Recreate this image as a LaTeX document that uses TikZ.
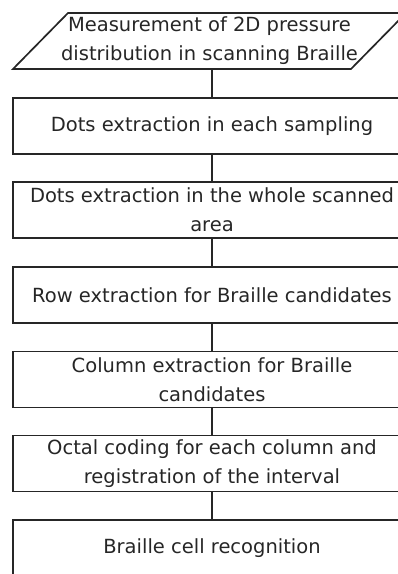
\documentclass[tikz,border=0pt]{standalone}
\usepackage{fontspec}
\setmainfont{DejaVu Sans}
\begin{document}
\begin{tikzpicture}[x=1pt,y=-1pt,
  every node/.style={font=\fontsize{19.5}{29}\selectfont, text=black!85, align=center, inner sep=0pt},
  stepbox/.style={draw=black!85, line width=1.7pt, minimum width=398pt, minimum height=56pt},
  link/.style={draw=black!85, line width=2.2pt}]
\useasboundingbox (0,0) rectangle (398,574);
\clip (0,0) rectangle (398,574);
\node[minimum width=337pt, minimum height=56pt] (meas) at (209.5,41) {Measurement of 2D pressure\\distribution in scanning Braille};
\draw[line width=1.7pt, draw=black!85] (13,69) -- (68,13) -- (406,13) -- (351,69) -- cycle;
\node[stepbox] (b2) at (212,126) {Dots extraction in each sampling};
\node[stepbox] (b3) at (212,210) {Dots extraction in the whole scanned\\area};
\node[stepbox] (b4) at (212,295) {Row extraction for Braille candidates};
\node[stepbox] (b5) at (212,379.5) {Column extraction for Braille\\candidates};
\node[stepbox] (b6) at (212,463.5) {Octal coding for each column and\\registration of the interval};
\node[stepbox] (b7) at (212,548) {Braille cell recognition};
\draw[link] (b2.north |- meas.south) -- (b2.north);
\draw[link] (b2) -- (b3);
\draw[link] (b3) -- (b4);
\draw[link] (b4) -- (b5);
\draw[link] (b5) -- (b6);
\draw[link] (b6) -- (b7);
\end{tikzpicture}
\end{document}
